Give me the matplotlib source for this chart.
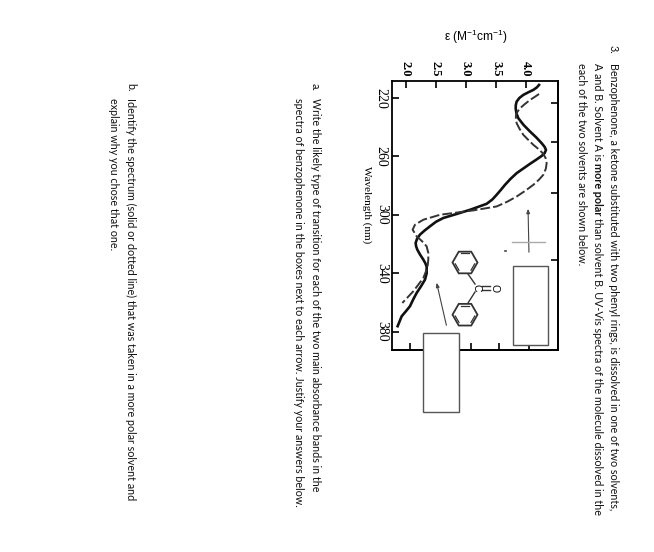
import numpy as np
import matplotlib
matplotlib.use("Agg")
import matplotlib.pyplot as plt
from matplotlib.patches import Rectangle, RegularPolygon
from matplotlib.transforms import Affine2D

# spectra
solid_wl = [211.1, 212.8, 214.5, 216.0, 217.9, 220.0, 222.5, 224.8, 227.1, 230.5, 233.9, 238.5, 243.0, 247.0,
            251.0, 253.5, 255.6, 257.8, 259.7, 262.3, 265.1, 271.5, 275.5, 279.5, 283.0, 286.3, 289.5, 292.5,
            296.6, 299.5, 302.2, 304.8, 307.9, 310.8, 313.6, 316.4, 319.3, 321.5, 323.9, 327.3, 330.7, 333.0,
            335.3, 340.0, 344.4, 349.0, 353.5, 358.0, 362.6, 366.0, 369.5, 376.3]
solid_eps = [4.217, 4.180, 4.122, 4.045, 3.956, 3.890, 3.844, 3.830, 3.828, 3.840, 3.872, 3.960, 4.067, 4.170,
             4.261, 4.310, 4.333, 4.310, 4.261, 4.170, 4.067, 3.844, 3.740, 3.650, 3.580, 3.511, 3.440, 3.344,
             3.067, 2.840, 2.622, 2.500, 2.400, 2.310, 2.233, 2.185, 2.161, 2.168, 2.189, 2.235, 2.289, 2.320,
             2.344, 2.345, 2.317, 2.250, 2.178, 2.120, 2.067, 2.000, 1.928, 1.861]
dash_wl = [217.3, 219.3, 221.4, 224.2, 227.1, 229.3, 231.6, 234.4, 237.3, 241.0, 245.3, 248.6, 252.1, 254.9,
           257.8, 261.0, 264.7, 268.5, 272.6, 276.0, 279.5, 283.5, 287.5, 291.0, 294.3, 297.0, 300.0, 303.4,
           306.8, 310.2, 314.8, 318.0, 321.6, 326.2, 330.5, 335.3, 339.0, 343.3, 352.4, 360.4]
dash_eps = [4.217, 4.145, 4.067, 3.980, 3.900, 3.860, 3.833, 3.830, 3.844, 3.890, 3.956, 4.035, 4.122, 4.205,
            4.278, 4.325, 4.344, 4.330, 4.289, 4.215, 4.122, 3.990, 3.844, 3.690, 3.511, 3.122, 2.567, 2.289,
            2.150, 2.111, 2.178, 2.265, 2.344, 2.372, 2.372, 2.361, 2.330, 2.289, 2.122, 1.939]

eps_ticks = [2.0, 2.5, 3.0, 3.5, 4.0]
eps_labels = ["2.0", "2.5", "3.0", "3.5", "4.0"]
wl_ticks = [220, 260, 300, 340, 380]
eps_ticks_far = [2.07, 3.08, 3.55, 4.05]
wl_ticks_far = [223.4, 250, 285, 331]

line1 = "Benzophenone, a ketone substituted with two phenyl rings, is dissolved in one of two solvents,"
line2 = ["A and B. Solvent A is ", "more polar", " than solvent B. UV-Vis spectra of the molecule dissolved in the"]
line3 = "each of the two solvents are shown below."
a1 = "Write the likely type of transition for each of the two main absorbance bands in the"
a2 = "spectra of benzophenone in the boxes next to each arrow. Justify your answers below."
b1 = "Identify the spectrum (solid or dotted line) that was taken in a more polar solvent and"
b2 = "explain why you chose that one."

W, H = 654, 552
fig = plt.figure(figsize=(W / 100, H / 100), dpi=100)
plt.rcParams['mathtext.default'] = 'regular'
px = Affine2D().scale(1 / W, -1 / H).translate(0, 1) + fig.transFigure

# ======================
# axes
# ======================
ax = fig.add_axes([392 / W, 1 - 350 / H, 166 / W, 269 / H])
ax.set_xlim(1.767, 4.533)
ax.set_ylim(392.6, 208.4)
ax.plot(solid_eps, solid_wl, color="#111111", lw=1.9, solid_joinstyle="round")
ax.plot(dash_eps, dash_wl, color="#333333", lw=1.4, dashes=(5, 1.6))

ax.xaxis.tick_top()
ax.set_xticks(eps_ticks, eps_labels)
ax.set_yticks(wl_ticks)
ax.tick_params(direction="in", length=5, width=1.2, pad=3, labelsize=8)
for lab in ax.get_xticklabels():
    lab.set(rotation=-90, family="Liberation Serif", weight="bold", va="bottom", ha="center", fontsize=9)
for lab in ax.get_yticklabels():
    lab.set(rotation=-90, family="Liberation Serif", va="center", ha="right", fontsize=10)
for s in ax.spines.values():
    s.set_linewidth(1.3)

far_x = ax.secondary_xaxis("bottom")
far_x.set_xticks(eps_ticks_far, [])
far_x.tick_params(direction="in", length=5, width=1.2)
far_y = ax.secondary_yaxis("right")
far_y.set_yticks(wl_ticks_far, [])
far_y.tick_params(direction="in", length=5, width=1.2)
far_x.spines["bottom"].set_linewidth(1.3)
far_y.spines["right"].set_linewidth(1.3)


def ftext(x, y, s, **kw):
    return fig.text(x / W, 1 - y / H, s, **kw)


def seg(x0, y0, x1, y1, **kw):
    kw.setdefault("color", "#333333")
    kw.setdefault("lw", 1.0)
    ax.plot([x0, x1], [y0, y1], transform=px, clip_on=False, zorder=6, **kw)


ftext(476, 37, "ε (M$^{-1}$cm$^{-1}$)", family="Liberation Sans", fontsize=8.6, ha="center", va="center")
ftext(367, 205, "Wavelength (nm)", family="Liberation Serif", fontsize=8, rotation=-90, ha="center", va="center")

# answer boxes and arrows
for x0, y0, x1, y1 in [(513, 266, 548, 345), (423, 333, 459, 412)]:
    ax.add_patch(Rectangle((x0, y0), x1 - x0, y1 - y0, transform=px, clip_on=False, zorder=5,
                           facecolor="white", edgecolor="#555555", lw=1.0))
for start, end in [((529, 255), (528, 206)), ((447, 328), (436, 280))]:
    ax.annotate("", xy=end, xytext=start, xycoords=px, textcoords=px, zorder=6,
                arrowprops=dict(arrowstyle="-|>,head_width=0.1,head_length=0.25", color="#444444", lw=0.8))
seg(512, 242, 545, 242, color="#aaaaaa", lw=1.0)
seg(505, 251, 506, 251, color="#444444", lw=1.2)

# benzophenone
for cy in [262.5, 314.7]:
    ax.add_patch(RegularPolygon((465, cy), 6, radius=12.5, orientation=np.pi / 2, transform=px,
                                clip_on=False, zorder=6, fill=False, edgecolor="#333333", lw=1.3))
    # inner double bonds
    for k in [0, 2, 4]:
        a0, a1_ = np.radians(60 * k + 8), np.radians(60 * k + 52)
        seg(465 + 9.8 * np.cos(a0), cy + 9.8 * np.sin(a0), 465 + 9.8 * np.cos(a1_), cy + 9.8 * np.sin(a1_), lw=0.9)
seg(468, 274, 475, 284)
seg(468, 303, 475, 292)
seg(482, 286, 490, 286)
seg(482, 289.5, 490, 289.5)
ftext(477, 288, "C", family="Liberation Sans", fontsize=7.5, rotation=-90, ha="center", va="center", zorder=7)
ftext(495, 288, "O", family="Liberation Sans", fontsize=7.5, rotation=-90, ha="center", va="center", zorder=7)

# ======================
# question text
# ======================
tkw = dict(family="Lato", fontsize=7.75, rotation=-90, ha="center", va="top", color="#111111")
ftext(613, 45, "3.", **tkw)
ftext(613, 63, line1, **tkw)
ftext(582, 63, line3, **tkw)
ftext(315, 83, "a.", **tkw)
ftext(315, 98, a1, **tkw)
ftext(298, 98, a2, **tkw)
ftext(131, 83, "b.", **tkw)
ftext(131, 98, b1, **tkw)
ftext(113, 98, b2, **tkw)

# line with the bold part, pieces placed one after the other
y = 63
renderer = fig.canvas.get_renderer()
for part, weight in zip(line2, ["normal", "bold", "normal"]):
    t = ftext(597, y, part.strip(), fontweight=weight, **tkw)
    y += t.get_window_extent(renderer).height
    y += 2.4 if part != line2[2] else 0

fig.savefig("out.png", dpi=100)
